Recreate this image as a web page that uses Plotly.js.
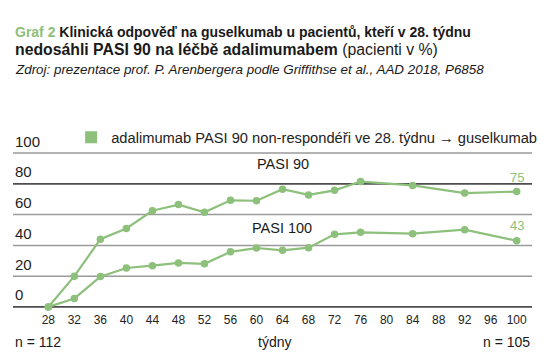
<!DOCTYPE html>
<html>
<head>
<meta charset="utf-8">
<script src="https://cdn.plot.ly/plotly-3.0.1.min.js"></script>
<style>html,body{margin:0;padding:0;background:#fff;}#chart{width:553px;height:358px;}</style>
</head>
<body>
<div id="chart"></div>
<script>
// ---- data ----
const weeks = [28, 32, 36, 40, 44, 48, 52, 56, 60, 64, 68, 72, 76, 84, 92, 100];
const pasi90 = [0, 20, 44, 51, 62.5, 66.5, 61.5, 69.3, 69, 76.5, 72.8, 75.8, 81.5, 79, 74, 75];
const pasi100 = [0, 5.5, 19.7, 25.3, 26.8, 28.6, 28, 35.8, 38.3, 36.8, 38.5, 47.2, 48.5, 47.6, 50.2, 43];
const xTicks = [28, 32, 36, 40, 44, 48, 52, 56, 60, 64, 68, 72, 76, 80, 84, 88, 92, 96, 100];
const yTicks = [0, 20, 40, 60, 80, 100];
const darkGridValues = [0, 80];
const seriesNames = ["PASI 90", "PASI 100"];
const legendLabel = "adalimumab PASI 90 non-respondéři ve 28. týdnu → guselkumab";
const nStart = "n = 112", nEnd = "n = 105";
const xTitle = "týdny";

const green = "#8dc07b";
const font = "Liberation Sans, Arial, sans-serif";

// plot-area geometry (pixels)
const M = {l: 13, r: 21, t: 150.4, b: 47.6};
const plotH = 358 - M.t - M.b, plotBottom = 358 - M.b;
const py = p => (plotBottom - p) / plotH;   // pixel y -> paper y

function lineTrace(y, name) {
  return {
    x: weeks, y: y, name: name, type: "scatter", mode: "lines+markers",
    line: {color: green, width: 2.2},
    marker: {color: green, size: 7.5},
    showlegend: false, cliponaxis: false, hoverinfo: "skip"
  };
}
const legendTrace = {
  x: [null], y: [null], type: "scatter", mode: "markers", name: legendLabel,
  marker: {color: green, symbol: "square", size: 12}, showlegend: true, hoverinfo: "skip"
};

const data = [lineTrace(pasi90, seriesNames[0]), lineTrace(pasi100, seriesNames[1]), legendTrace];

const last90 = pasi90[pasi90.length - 1], last100 = pasi100[pasi100.length - 1];

const gridShapes = yTicks.map(v => ({
  type: "line", xref: "paper", x0: 0, x1: 1, yref: "y", y0: v, y1: v,
  line: {color: darkGridValues.includes(v) ? "#4d4d4d" : "#9a9a9a", width: darkGridValues.includes(v) ? 1.7 : 1.5},
  layer: "below"
}));

const yTickLabels = yTicks.map(v => ({
  xref: "paper", yref: "y", x: 0, y: v, yshift: 12, xanchor: "left", yanchor: "middle",
  text: String(v), showarrow: false, font: {size: 15, family: font, color: "#222"}
}));

const layout = {
  width: 553, height: 358,
  margin: {l: M.l, r: M.r, t: M.t, b: M.b, autoexpand: false},
  paper_bgcolor: "#fff", plot_bgcolor: "#fff",
  font: {family: font, color: "#222"},
  showlegend: true,
  legend: {x: 0.112, y: py(138), xanchor: "left", yanchor: "middle", orientation: "h",
           font: {size: 14.7, color: "#222", family: font}, bgcolor: "rgba(0,0,0,0)",
           itemwidth: 30, tracegroupgap: 0},
  xaxis: {
    range: [22.57, 102.35], tickvals: xTicks, ticktext: xTicks.map(String),
    showgrid: false, zeroline: false, showline: false, ticks: "",
    tickfont: {size: 12, color: "#222", family: font}, ticklabelstandoff: 1
  },
  yaxis: {
    range: [-2, 102], tickvals: yTicks, showticklabels: false,
    showgrid: false, zeroline: false, showline: false, ticks: ""
  },
  shapes: gridShapes,
  annotations: yTickLabels.concat([
    {xref: "paper", yref: "paper", x: 0, y: py(32), xanchor: "left", yanchor: "middle",
     text: '<span style="color:' + green + '">Graf 2</span> Klinická odpověď na guselkumab u pacientů, kteří v 28. týdnu',
     showarrow: false, font: {size: 14, family: font, color: "#1a1a1a", weight: "bold"}},
    {xref: "paper", yref: "paper", x: 0, y: py(49.5), xanchor: "left", yanchor: "middle",
     text: '<b>nedosáhli PASI 90 na léčbě adalimumabem</b> (pacienti v %)',
     showarrow: false, font: {size: 15.8, family: font, color: "#1a1a1a"}},
    {xref: "paper", yref: "paper", x: 0, y: py(70), xanchor: "left", yanchor: "middle",
     text: '<i>Zdroj: prezentace prof. P. Arenbergera podle Griffithse et al., AAD 2018, P6858</i>',
     showarrow: false, font: {size: 13.4, family: font, color: "#1a1a1a"}},
    {xref: "x", yref: "y", x: 64.1, y: 93.2, text: seriesNames[0], showarrow: false,
     font: {size: 14.5, family: font, color: "#1a1a1a"}},
    {xref: "x", yref: "y", x: 63.9, y: 51.6, text: seriesNames[1], showarrow: false,
     font: {size: 14.5, family: font, color: "#1a1a1a"}},
    {xref: "x", yref: "y", x: weeks[weeks.length - 1], y: last90, yshift: 14, text: String(last90),
     showarrow: false, font: {size: 13, family: font, color: green}},
    {xref: "x", yref: "y", x: weeks[weeks.length - 1], y: last100, yshift: 15, text: String(last100),
     showarrow: false, font: {size: 13, family: font, color: green}},
    {xref: "paper", yref: "paper", x: 0, y: py(342.5), xanchor: "left", yanchor: "middle",
     text: nStart, showarrow: false, font: {size: 14, family: font, color: "#1a1a1a"}},
    {xref: "paper", yref: "paper", x: 1, y: py(342.5), xanchor: "right", yanchor: "middle",
     text: nEnd, showarrow: false, font: {size: 14, family: font, color: "#1a1a1a"}},
    {xref: "paper", yref: "paper", x: (274 - 13) / 519, y: py(342.5), xanchor: "center", yanchor: "middle",
     text: xTitle, showarrow: false, font: {size: 14, family: font, color: "#1a1a1a"}}
  ])
};

Plotly.newPlot("chart", data, layout, {displayModeBar: false, staticPlot: true});
</script>
</body>
</html>
